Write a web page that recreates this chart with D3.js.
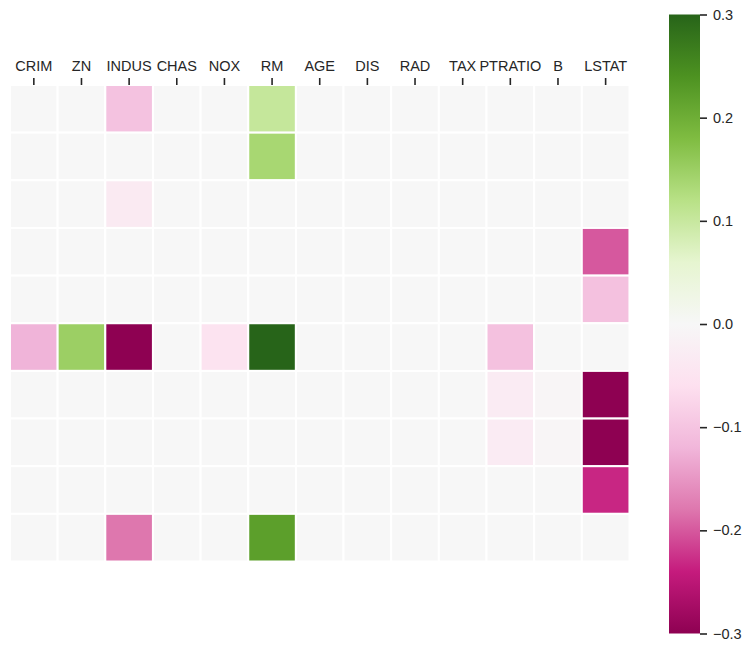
<!DOCTYPE html>
<html>
<head>
<meta charset="utf-8">
<script src="https://cdn.jsdelivr.net/npm/d3@7"></script>
<style>
  body { margin: 0; background: #fff; }
  text { font-family: "Liberation Sans", Arial, sans-serif; fill: #262626; }
</style>
</head>
<body>
<svg id="chart" width="752" height="650"></svg>
<script>
// column labels (top axis)
var features = ['CRIM', 'ZN', 'INDUS', 'CHAS', 'NOX', 'RM', 'AGE', 'DIS', 'RAD', 'TAX', 'PTRATIO', 'B', 'LSTAT'];

// one row per unlabelled component
var row0 = [0, 0, -0.103, 0, 0, 0.103, 0, 0, 0, 0, 0, 0, 0];
var row1 = [0, 0, 0, 0, 0, 0.137, 0, 0, 0, 0, 0, 0, 0];
var row2 = [0, 0, -0.034, 0, 0, 0, 0, 0, 0, 0, 0, 0, 0];
var row3 = [0, 0, 0, 0, 0, 0, 0, 0, 0, 0, 0, 0, -0.20];
var row4 = [0, 0, 0, 0, 0, 0, 0, 0, 0, 0, 0, 0, -0.105];
var row5 = [-0.122, 0.15, -0.30, 0, -0.052, 0.30, 0, 0, 0, 0, -0.105, 0, 0];
var row6 = [0, 0, 0, 0, 0, 0, 0, 0, 0, 0, -0.032, -0.005, -0.30];
var row7 = [0, 0, 0, 0, 0, 0, 0, 0, 0, 0, -0.032, -0.005, -0.30];
var row8 = [0, 0, 0, 0, 0, 0, 0, 0, 0, 0, 0, 0, -0.233];
var row9 = [0, 0, -0.18, 0, 0, 0.222, 0, 0, 0, 0, 0, 0, 0];
var rows = [row0, row1, row2, row3, row4, row5, row6, row7, row8, row9];

var cbarTicks = [0.3, 0.2, 0.1, 0.0, -0.1, -0.2, -0.3];
var vmin = -0.3, vmax = 0.3;

// PiYG, piecewise linear like matplotlib
var piyg = ['#8e0152', '#c51b7d', '#de77ae', '#f1b6da', '#fde0ef', '#f7f7f7',
            '#e6f5d0', '#b8e186', '#7fbc41', '#4d9221', '#276419'];
var color = d3.scaleLinear()
    .domain(d3.range(piyg.length).map(function(i){ return vmin + (vmax - vmin) * i / (piyg.length - 1); }))
    .range(piyg)
    .interpolate(d3.interpolateRgb)
    .clamp(true);

var svg = d3.select('#chart');

var cellSize = 47.65;
var gridLeft = 10, gridTop = 85;

var x = d3.scaleBand().domain(features).range([gridLeft, gridLeft + cellSize * features.length]);
var y = d3.scaleBand().domain(d3.range(rows.length)).range([gridTop, gridTop + cellSize * rows.length]);

var cells = [];
rows.forEach(function(r, i){
    r.forEach(function(v, j){ cells.push({ row: i, col: features[j], v: v }); });
});

svg.append('g').selectAll('rect')
    .data(cells)
    .enter().append('rect')
    .attr('x', function(d){ return x(d.col); })
    .attr('y', function(d){ return y(d.row); })
    .attr('width', x.bandwidth())
    .attr('height', y.bandwidth())
    .attr('fill', function(d){ return color(d.v); })
    .attr('stroke', '#fff')
    .attr('stroke-width', 2);

// top axis
var xAxis = svg.append('g')
    .attr('transform', 'translate(0,' + gridTop + ')')
    .call(d3.axisTop(x).tickSize(7).tickPadding(7));
xAxis.select('.domain').remove();
xAxis.selectAll('line').attr('stroke', '#262626').attr('stroke-width', 1.6);
xAxis.selectAll('text').style('font-size', '14.5px').attr('fill', '#262626');

// colorbar
var cbX = 669, cbW = 31, cbTop = 14.5, cbBottom = 633.5;
var cy = d3.scaleLinear().domain([vmin, vmax]).range([cbBottom, cbTop]);

var grad = svg.append('defs').append('linearGradient')
    .attr('id', 'cbgrad')
    .attr('x1', 0).attr('y1', 1).attr('x2', 0).attr('y2', 0);
grad.selectAll('stop')
    .data(piyg)
    .enter().append('stop')
    .attr('offset', function(d, i){ return i / (piyg.length - 1); })
    .attr('stop-color', function(d){ return d; });

svg.append('rect')
    .attr('x', cbX)
    .attr('y', cy(vmax))
    .attr('width', cbW)
    .attr('height', cy(vmin) - cy(vmax))
    .attr('fill', 'url(#cbgrad)');

var cAxis = svg.append('g')
    .attr('transform', 'translate(' + (cbX + cbW) + ',0)')
    .call(d3.axisRight(cy).tickValues(cbarTicks).tickSize(7).tickPadding(6)
        .tickFormat(function(d){ return d3.format('.1f')(d).replace('-', '\u2212'); }));
cAxis.select('.domain').remove();
cAxis.selectAll('line').attr('stroke', '#262626').attr('stroke-width', 1.6);
cAxis.selectAll('text').style('font-size', '14.5px').attr('fill', '#262626');
</script>
</body>
</html>
